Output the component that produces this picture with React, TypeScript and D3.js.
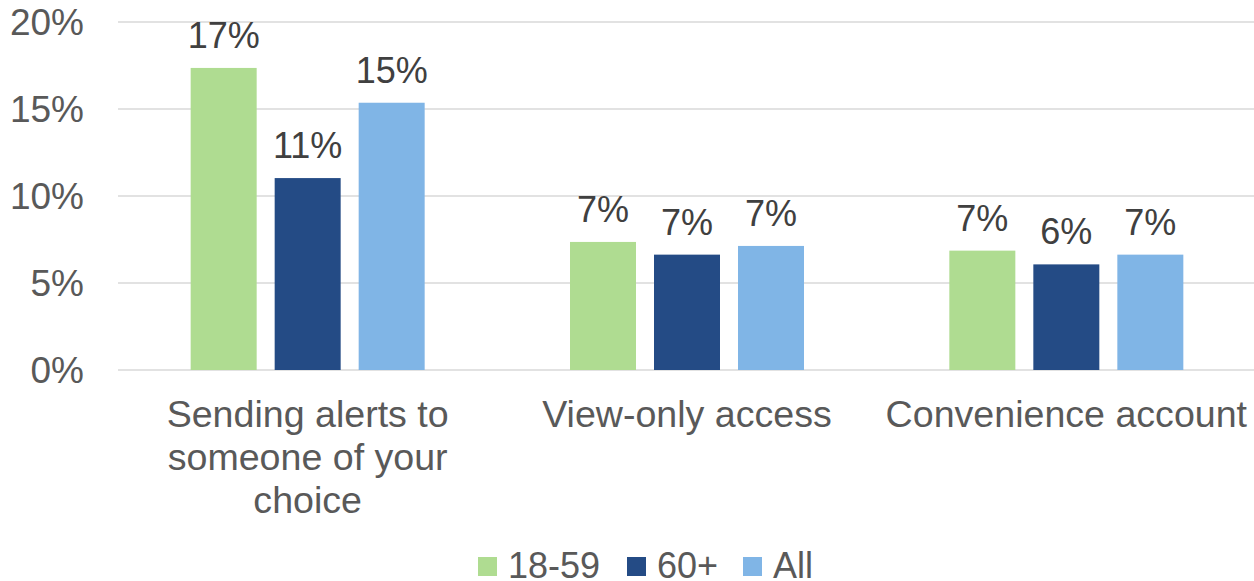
import React from "react";
import * as d3 from "d3";

const categories: string[][] = [
  ["Sending alerts to", "someone of your", "choice"],
  ["View-only access"],
  ["Convenience account"],
];
const seriesNames = ["18-59", "60+", "All"];
const seriesColors = ["#AFDC91", "#244B85", "#80B5E6"];
const values18_59 = [17.36, 7.36, 6.86];
const values60plus = [11.03, 6.63, 6.07];
const valuesAll = [15.36, 7.13, 6.63];
const valueLabels = [
  ["17%", "7%", "7%"],
  ["11%", "7%", "6%"],
  ["15%", "7%", "7%"],
];
const yTicks = [0, 5, 10, 15, 20];

const W = 1254;
const H = 581;
const FONT = "'Liberation Sans', Arial, sans-serif";

export default function App() {
  const series = [values18_59, values60plus, valuesAll];
  const catKeys = categories.map((c) => c.join(" "));
  const x0 = d3.scaleBand<string>().domain(catKeys).range([118, 1256]).padding(0);
  const groupW = 234;
  const x1 = d3
    .scaleBand<string>()
    .domain(seriesNames)
    .range([0, groupW])
    .paddingInner(18 / 84)
    .paddingOuter(0);
  const y = d3.scaleLinear().domain([0, 20]).range([370, 22]);

  return (
    <svg
      width={W}
      height={H}
      style={{ position: "absolute", left: 0, top: 0, background: "#fff" }}
      fontFamily={FONT}
    >
      {yTicks.map((t) => (
        <g key={t}>
          <line x1={118} x2={W} y1={y(t)} y2={y(t)} stroke="#D9D9D9" strokeWidth={1.5} />
          <text x={84} y={y(t) + 12.5} textAnchor="end" fontSize={37} fill="#595959">
            {t + "%"}
          </text>
        </g>
      ))}
      {catKeys.map((ck, ci) => {
        const gx = (x0(ck) as number) + (x0.bandwidth() - groupW) / 2;
        return (
          <g key={ck}>
            {series.map((vals, si) => {
              const bx = gx + (x1(seriesNames[si]) as number);
              const v = vals[ci];
              return (
                <g key={si}>
                  <rect
                    x={bx}
                    y={y(v)}
                    width={x1.bandwidth()}
                    height={y(0) - y(v)}
                    fill={seriesColors[si]}
                  />
                  <text
                    x={bx + x1.bandwidth() / 2}
                    y={y(v) - 20}
                    textAnchor="middle"
                    fontSize={36}
                    fill="#404040"
                  >
                    {valueLabels[si][ci]}
                  </text>
                </g>
              );
            })}
            {categories[ci].map((line, li) => (
              <text
                key={li}
                x={(x0(ck) as number) + x0.bandwidth() / 2}
                y={427 + li * 43}
                textAnchor="middle"
                fontSize={37.6}
                fill="#595959"
              >
                {line}
              </text>
            ))}
          </g>
        );
      })}
      {(() => {
        const starts = [478, 627, 743];
        return seriesNames.map((name, i) => (
          <g key={name}>
            <rect x={starts[i]} y={557} width={19} height={19} fill={seriesColors[i]} />
            <text x={starts[i] + 30} y={578} fontSize={36} fill="#595959">
              {name}
            </text>
          </g>
        ));
      })()}
    </svg>
  );
}
